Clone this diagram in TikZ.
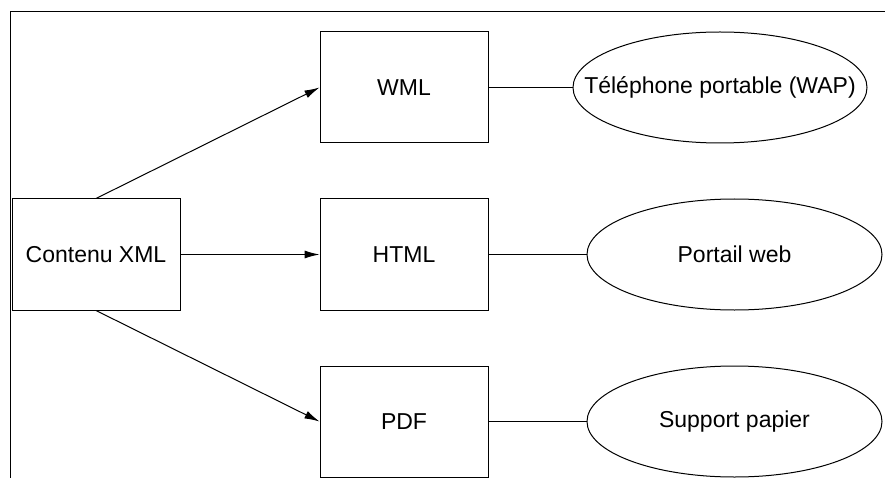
\documentclass[tikz,border=0pt]{standalone}
\usepackage{fontspec}
\setmainfont{Liberation Sans}
\usetikzlibrary{shapes.geometric,arrows.meta}
\newcommand{\etroit}[1]{\makebox[0pt]{#1}}

\begin{document}
\begin{tikzpicture}
		[x=1pt, y=-1pt,
		every node/.style={draw, fill=white, align=center, inner sep=0pt, line width=1pt,
			font=\fontsize{23}{27}\selectfont},
		boite/.style={rectangle, minimum width=168pt, minimum height=111pt},
		cible/.style={ellipse, minimum width=295pt, minimum height=111pt},
		fleche/.style={line width=1pt, -{Latex[length=15pt,width=8pt]}},
		lien/.style={line width=1pt},
		]
		\useasboundingbox (0,0) rectangle (885,478);
		\draw[lien] (10,478) -- (10,12) -- (885,12);

		\node[boite] (xml) at (96,254.5) {Contenu XML};
		\node[boite] (wml) at (404,87.5) {WML};
		\node[boite] (html) at (404,254.5) {HTML};
		\node[boite] (pdf) at (404,421.5) {PDF};

		\node[cible, minimum width=294pt] (tel) at (720,87.5) {\etroit{Téléphone portable (WAP)}};
		\node[cible] (web) at (734.5,254.5) {\etroit{Portail web}};
		\node[cible] (papier) at (734.5,421.5) {\etroit{Support papier}};

		\draw[fleche] (xml.north) -- (wml.west);
		\draw[fleche] (xml.east) -- (html.west);
		\draw[fleche] (xml.south) -- (pdf.west);
		\draw[lien] (wml) -- (tel);
		\draw[lien] (html) -- (web);
		\draw[lien] (pdf) -- (papier);
	\end{tikzpicture}
\end{document}
